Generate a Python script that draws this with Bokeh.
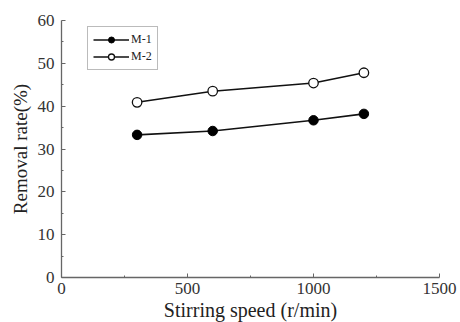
from bokeh.plotting import figure
from bokeh.models import FixedTicker, Legend, LegendItem, Range1d, Title
from bokeh.embed import file_html
from bokeh.resources import INLINE

# Removal rate vs stirring speed for two samples
speed = [300, 600, 1000, 1200]
m1_rate = [33.3, 34.2, 36.7, 38.2]
m2_rate = [40.9, 43.5, 45.4, 47.8]
series_names = ["M-1", "M-2"]

x_ticks = [0, 500, 1000, 1500]
x_minor = [250, 750, 1250]
y_ticks = [0, 10, 20, 30, 40, 50, 60]
y_minor = [5, 15, 25, 35, 45, 55]

FONT = "Liberation Serif"

p = figure(width=460, height=322, output_backend="svg", toolbar_location=None,
           x_range=Range1d(0, 1500), y_range=Range1d(0, 60),
           min_border_left=61, min_border_right=21,
           min_border_top=20, min_border_bottom=45)
p.grid.visible = False
p.outline_line_color = None
p.background_fill_color = "white"
p.border_fill_color = "white"

r1 = p.line(speed, m1_rate, line_color="#111111", line_width=1.6)
c1 = p.scatter(speed, m1_rate, size=9.5, fill_color="black", line_color="black")
r2 = p.line(speed, m2_rate, line_color="#111111", line_width=1.6)
c2 = p.scatter(speed, m2_rate, size=9.5, fill_color="white", line_color="#111111",
               line_width=1.3)

for ax, ticks, minor in ((p.xaxis[0], x_ticks, x_minor), (p.yaxis[0], y_ticks, y_minor)):
    ax.ticker = FixedTicker(ticks=ticks, minor_ticks=minor)
    ax.axis_line_color = "#666666"
    ax.axis_line_width = 1.3
    ax.major_tick_line_color = "#666666"
    ax.minor_tick_line_color = "#666666"
    ax.major_tick_in = 4
    ax.major_tick_out = 0
    ax.minor_tick_in = 2
    ax.minor_tick_out = 0
    ax.major_label_text_font = FONT
    ax.major_label_text_font_size = "17px"
    ax.major_label_text_color = "#333333"
    ax.axis_label_text_font = FONT
    ax.axis_label_text_font_style = "normal"
    ax.axis_label_text_color = "#222222"

p.xaxis.major_label_standoff = 5
p.yaxis.axis_label = "Removal rate(%)"
p.yaxis.axis_label_text_font_size = "19px"
p.yaxis.major_label_standoff = 7
p.yaxis.axis_label_standoff = 4

# x-axis title as a layout element below the axis
x_title = Title(text="Stirring speed (r/min)", align="center",
                text_font=FONT, text_font_size="20px", text_font_style="normal",
                text_color="#222222", standoff=0, offset=0)
p.add_layout(x_title, "below")

legend = Legend(items=[LegendItem(label=series_names[0], renderers=[r1, c1]),
                       LegendItem(label=series_names[1], renderers=[r2, c2])],
                location=(26, 207), orientation="vertical")
legend.label_text_font = FONT
legend.label_text_font_size = "12px"
legend.label_text_color = "#222222"
legend.glyph_width = 36
legend.glyph_height = 15
legend.label_standoff = 2
legend.spacing = 2
legend.padding = 5
legend.margin = 0
legend.border_line_color = "#777777"
legend.border_line_width = 1
legend.background_fill_alpha = 1
p.add_layout(legend, "center")

open("out.html", "w").write(file_html(p, INLINE))
